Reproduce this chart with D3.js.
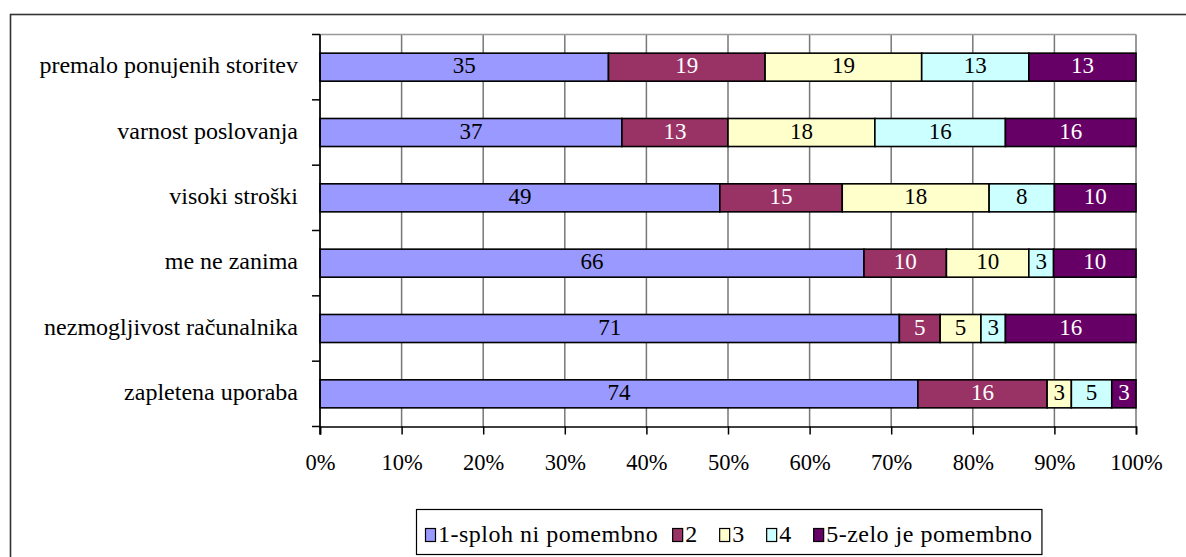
<!DOCTYPE html>
<html>
<head>
<meta charset="utf-8">
<script src="https://cdn.jsdelivr.net/npm/d3@7"></script>
<style>
  html, body { margin: 0; padding: 0; background: #fff; }
  svg { display: block; }
  svg text { font-family: "Liberation Serif", "Times New Roman", Times, serif; }
</style>
</head>
<body>
<svg id="chart" width="1186" height="557"></svg>
<script>
// Categories (top to bottom) and responses per importance level
const categories = [
  "premalo ponujenih storitev",
  "varnost poslovanja",
  "visoki stroški",
  "me ne zanima",
  "nezmogljivost računalnika",
  "zapletena uporaba"
];
const seriesNames = ["1-sploh ni pomembno", "2", "3", "4", "5-zelo je pomembno"];
const level1 = [35, 37, 49, 66, 71, 74];
const level2 = [19, 13, 15, 10, 5, 16];
const level3 = [19, 18, 18, 10, 5, 3];
const level4 = [13, 16, 8, 3, 3, 5];
const level5 = [13, 16, 10, 10, 16, 3];
const xTickLabels = ["0%", "10%", "20%", "30%", "40%", "50%", "60%", "70%", "80%", "90%", "100%"];

const colors = ["#9999FF", "#993366", "#FFFFCC", "#CCFFFF", "#660066"];
const labelColors = ["#000", "#fff", "#000", "#000", "#fff"];
const SERIF = "'Liberation Serif', 'Times New Roman', Times, serif";

const svg = d3.select("#chart");

// outer frame
svg.append("rect")
  .attr("x", 10.5).attr("y", 14.5)
  .attr("width", 1300).attr("height", 700)
  .attr("fill", "none").attr("stroke", "#333").attr("stroke-width", 1.6);

const plot = { left: 320, right: 1136, top: 34.5, bottom: 426.5 };

// rows of normalized (100% stacked) data
const rows = categories.map((c, i) => {
  const vals = [level1[i], level2[i], level3[i], level4[i], level5[i]];
  const total = d3.sum(vals);
  const r = { category: c, raw: vals };
  seriesNames.forEach((s, k) => r[s] = vals[k] / total);
  return r;
});

const stacked = d3.stack().keys(seriesNames)(rows);

const x = d3.scaleLinear().domain([0, 1]).range([plot.left, plot.right]);
const pad = 0.571;
const y = d3.scaleBand().domain(categories).range([plot.top, plot.bottom])
  .paddingInner(pad).paddingOuter(pad / 2);
const step = y.step();
const center = c => y(c) + y.bandwidth() / 2;

// vertical gridlines
const ticks = d3.range(0, 1.0001, 0.1);
svg.append("g").selectAll("line").data(ticks).join("line")
  .attr("x1", d => x(d)).attr("x2", d => x(d))
  .attr("y1", plot.top).attr("y2", plot.bottom)
  .attr("stroke", "#777").attr("stroke-width", 1.5);

// top border of plot area
svg.append("line")
  .attr("x1", plot.left).attr("x2", plot.right)
  .attr("y1", plot.top).attr("y2", plot.top)
  .attr("stroke", "#999").attr("stroke-width", 1.5);

// bars
const gBars = svg.append("g");
stacked.forEach((layer, k) => {
  gBars.selectAll(null).data(layer).join("rect")
    .attr("x", d => x(d[0]))
    .attr("y", d => y(d.data.category))
    .attr("width", d => x(d[1]) - x(d[0]))
    .attr("height", y.bandwidth())
    .attr("fill", colors[k])
    .attr("stroke", "#000").attr("stroke-width", 1.6);
});

// value labels
stacked.forEach((layer, k) => {
  gBars.selectAll(null).data(layer).join("text")
    .attr("x", d => (x(d[0]) + x(d[1])) / 2)
    .attr("y", d => center(d.data.category) + 6)
    .attr("text-anchor", "middle")
    .style("font-family", SERIF)
    .attr("font-size", 23)
    .attr("fill", labelColors[k])
    .text(d => d.data.raw[k]);
});

// x axis
const xAxis = d3.axisBottom(x)
  .tickValues(ticks)
  .tickFormat((d, i) => xTickLabels[i])
  .tickSize(8).tickPadding(20);
const gx = svg.append("g").attr("transform", `translate(0,${plot.bottom})`).call(xAxis);
gx.attr("font-family", null);
gx.select(".domain").attr("stroke", "#000").attr("stroke-width", 1.6);
gx.selectAll(".tick line").attr("stroke", "#000").attr("stroke-width", 1.5);
gx.selectAll(".tick text").attr("font-size", 22.5).style("font-family", SERIF).attr("fill", "#000");

// y axis: line plus ticks between categories
svg.append("line")
  .attr("x1", plot.left).attr("x2", plot.left)
  .attr("y1", plot.top).attr("y2", plot.bottom + 8)
  .attr("stroke", "#000").attr("stroke-width", 1.6);
svg.append("g").selectAll("line").data(d3.range(categories.length + 1)).join("line")
  .attr("x1", plot.left - 8).attr("x2", plot.left)
  .attr("y1", i => plot.top + i * step).attr("y2", i => plot.top + i * step)
  .attr("stroke", "#000").attr("stroke-width", 1.5);
svg.append("g").selectAll("text").data(categories).join("text")
  .attr("x", 298)
  .attr("y", c => center(c) + 6)
  .attr("text-anchor", "end")
  .style("font-family", SERIF)
  .attr("font-size", 24)
  .text(c => c);

// legend: swatch + label, laid out left to right
const legend = svg.append("g");
const legendBox = legend.append("rect")
  .attr("y", 509.5).attr("height", 45)
  .attr("fill", "#fff").attr("stroke", "#000").attr("stroke-width", 1.2);
let lx = 425;
let lastEnd = lx;
seriesNames.forEach((s, k) => {
  legend.append("rect")
    .attr("x", lx + 0.5).attr("y", 528.5).attr("width", 10).attr("height", 13)
    .attr("fill", colors[k]).attr("stroke", "#000").attr("stroke-width", 1.2);
  const t = legend.append("text")
    .attr("x", lx + 13).attr("y", 542)
    .style("font-family", SERIF)
    .style("letter-spacing", "0.5px")
    .attr("font-size", 24)
    .text(s);
  const len = t.node().getComputedTextLength();
  lastEnd = lx + 13 + len;
  lx += 13 + Math.max(len, 20) + 14;
});
legendBox.attr("x", 416.5).attr("width", lastEnd + 9 - 416);
</script>
</body>
</html>
